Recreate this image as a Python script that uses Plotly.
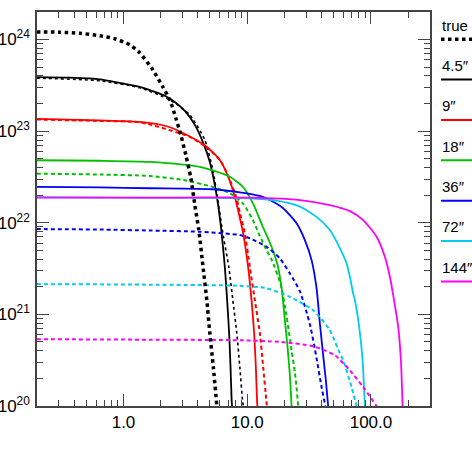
import plotly.graph_objects as go

# radius (x) and column density (y)
r_true = [0.199, 0.305, 0.443, 0.643, 0.851, 1.124, 1.354, 1.725, 2.078, 2.367, 2.648,
          2.906, 3.189, 3.500, 3.772, 4.061, 4.376, 4.714, 4.985, 5.321, 5.679]
n_true = [1.21e24, 1.20e24, 1.17e24, 1.10e24, 1.02e24, 8.75e23, 7.16e23, 4.67e23, 3.04e23,
          2.19e23, 1.39e23, 9.08e22, 5.49e22, 3.08e22, 1.56e22, 8.31e21, 3.45e21, 1.43e21,
          6.23e20, 2.65e20, 1.0e20]

# solid curves, one per beam
r_45 = [0.199, 0.368, 0.643, 0.933, 1.354, 1.791, 2.158, 2.598, 3.130, 3.772, 4.376,
        4.985, 5.472, 5.893, 6.232, 6.592, 6.880, 7.141, 7.329, 7.481, 7.54]
n_45 = [3.88e23, 3.83e23, 3.68e23, 3.36e23, 3.04e23, 2.68e23, 2.43e23, 2.08e23, 1.66e23,
        1.17e23, 7.62e22, 4.61e22, 2.58e22, 1.38e22, 7.34e21, 3.28e21, 1.43e21, 6.23e20,
        2.65e20, 1.15e20, 1.0e20]
r_9 = [0.199, 0.643, 1.354, 2.239, 3.436, 4.714, 6.005, 6.970, 7.941, 8.713, 9.265,
       10.17, 10.83, 11.37, 11.74, 12.00, 12.07]
n_9 = [1.36e23, 1.31e23, 1.26e23, 1.13e23, 8.75e22, 6.72e22, 4.84e22, 3.24e22, 1.91e22,
       1.13e22, 7.71e21, 3.28e21, 1.43e21, 6.23e20, 2.65e20, 1.15e20, 1.0e20]
r_18 = [0.199, 0.643, 1.632, 4.139, 7.235, 9.213, 11.10, 13.37, 15.72, 17.68, 19.05,
        20.14, 21.10, 22.11, 22.81]
n_18 = [4.81e22, 4.75e22, 4.61e22, 4.06e22, 3.18e22, 2.47e22, 1.64e22, 9.04e21, 5.47e21,
        3.36e21, 1.84e21, 8.64e20, 4.61e20, 2.17e20, 1.0e20]
r_36 = [0.199, 0.643, 1.632, 5.272, 8.713, 12.65, 15.23, 19.51, 25.04, 29.22, 33.11,
        36.33, 38.64, 41.23, 43.19, 45.08]
n_36 = [2.46e22, 2.43e22, 2.38e22, 2.32e22, 2.15e22, 1.96e22, 1.77e22, 1.44e22, 9.85e21,
        6.47e21, 3.91e21, 1.93e21, 7.95e20, 3.41e20, 1.91e20, 1.0e20]
r_72 = [0.199, 1.632, 10.50, 17.26, 26.62, 36.33, 46.53, 56.06, 63.51, 67.52, 71.80,
        74.12, 80.28, 85.53, 89.27]
n_72 = [1.90e22, 1.87e22, 1.85e22, 1.74e22, 1.50e22, 1.16e22, 8.32e21, 5.29e21, 3.60e21,
        2.57e21, 1.69e21, 1.43e21, 7.30e20, 3.16e20, 1.0e20]
r_144 = [0.199, 1.632, 10.50, 26.62, 46.53, 67.52, 86.50, 111.0, 129.5, 142.2, 151.2,
         166.0, 174.5, 180.1]
n_144 = [1.88e22, 1.88e22, 1.88e22, 1.77e22, 1.56e22, 1.34e22, 1.07e22, 7.03e21, 4.25e21,
         2.57e21, 1.62e21, 7.30e20, 3.16e20, 1.0e20]

# dashed curves, one per beam
r_45d = [0.199, 0.643, 1.354, 2.367, 3.436, 4.543, 5.272, 5.785, 6.348, 7.097, 7.650,
         8.240, 8.713, 9.163, 9.30]
n_45d = [3.79e23, 3.54e23, 2.97e23, 2.19e23, 1.50e23, 8.01e22, 3.77e22, 1.77e22, 7.71e21,
         3.28e21, 1.43e21, 6.23e20, 2.65e20, 1.15e20, 1.0e20]
r_9d = [0.199, 0.643, 1.354, 3.436, 4.714, 6.005, 6.970, 8.194, 8.713, 9.563, 10.50,
        11.52, 12.65, 13.45, 14.27, 14.40]
n_9d = [1.34e23, 1.29e23, 1.25e23, 8.64e22, 6.64e22, 4.84e22, 3.32e22, 1.86e22, 1.28e22,
        7.71e21, 3.28e21, 1.43e21, 6.23e20, 2.65e20, 1.15e20, 1.0e20]
r_18d = [0.199, 0.643, 1.632, 3.016, 5.272, 7.235, 9.213, 11.10, 12.65, 14.32, 15.81,
         18.69, 20.78, 22.81, 24.26, 25.04, 25.79]
n_18d = [3.43e22, 3.36e22, 3.24e22, 2.93e22, 2.46e22, 2.10e22, 1.63e22, 1.07e22, 7.16e21,
         5.03e21, 3.91e21, 2.09e21, 9.6e20, 4.06e20, 2.33e20, 1.60e20, 1.0e20]
r_36d = [0.199, 0.643, 1.632, 4.139, 8.713, 10.50, 14.32, 18.34, 22.11, 26.62, 32.07,
         36.33, 39.87, 42.79]
n_36d = [8.53e21, 8.43e21, 8.22e21, 7.97e21, 7.34e21, 6.76e21, 5.47e21, 4.08e21, 2.80e21,
         1.79e21, 7.81e20, 3.32e20, 1.61e20, 1.0e20]
r_72d = [0.199, 1.632, 8.713, 14.32, 22.11, 34.11, 46.53, 56.06, 59.61, 69.70, 76.47]
n_72d = [2.14e21, 2.11e21, 2.05e21, 1.93e21, 1.55e21, 1.11e21, 6.72e20, 3.74e20, 3.16e20,
         1.61e20, 1.0e20]
r_144d = [0.199, 1.632, 8.713, 18.34, 34.11, 51.08, 67.52, 86.50, 111.0]
n_144d = [5.36e20, 5.29e20, 5.22e20, 5.01e20, 4.49e20, 3.58e20, 2.45e20, 1.61e20, 1.0e20]

beams = ["4.5″", "9″", "18″", "36″", "72″", "144″"]
colors = ["black", "#ff0000", "#00c000", "#0000ff", "#00ccee", "#ff00ff"]
solid = [(r_45, n_45), (r_9, n_9), (r_18, n_18), (r_36, n_36), (r_72, n_72), (r_144, n_144)]
dashed = [(r_45d, n_45d), (r_9d, n_9d), (r_18d, n_18d), (r_36d, n_36d), (r_72d, n_72d),
          (r_144d, n_144d)]

x_tickvals = [1, 10, 100]
x_ticktext = ["1.0", "10.0", "100.0"]
y_tickvals = [1e20, 1e21, 1e22, 1e23, 1e24]
y_ticktext = ["10<sup>20</sup>", "10<sup>21</sup>", "10<sup>22</sup>", "10<sup>23</sup>",
              "10<sup>24</sup>"]

fig = go.Figure()

for i in range(len(beams)):
    fig.add_trace(go.Scatter(x=solid[i][0], y=solid[i][1], mode="lines",
                             line=dict(color=colors[i], width=1.8, shape="spline", smoothing=0.6),
                             name=beams[i], showlegend=False))
    fig.add_trace(go.Scatter(x=dashed[i][0], y=dashed[i][1], mode="lines",
                             line=dict(color=colors[i], width=2 if i else 1.6,
                                       dash="4px,3px" if i else "3px,3px",
                                       shape="spline", smoothing=0.6),
                             name=beams[i], showlegend=False))

fig.add_trace(go.Scatter(x=r_true, y=n_true, mode="lines",
                         line=dict(color="black", width=3.5, dash="dot", shape="spline", smoothing=0.6),
                         name="true", showlegend=False))

# legend: label above a short line sample, right of the plot
labels = ["true"] + beams
styles = [dict(color="black", width=3.5, dash="dot")] + \
         [dict(color=c, width=2) for c in colors]
for k in range(len(labels)):
    y_line = 0.931 - k * 0.1025
    fig.add_shape(type="line", xref="paper", yref="paper", x0=1.028, x1=1.11,
                  y0=y_line, y1=y_line, line=styles[k])
    fig.add_annotation(xref="paper", yref="paper", x=1.025, y=y_line + 0.036,
                       text=labels[k], showarrow=False, xanchor="left", yanchor="middle",
                       font=dict(size=15, color="black"))

axis_style = dict(
    type="log", showgrid=False, zeroline=False, showline=True, linecolor="#444",
    linewidth=1.5, mirror="ticks", ticks="inside", ticklen=12, tickwidth=1.2,
    tickcolor="#444", tickmode="array", automargin=False,
    minor=dict(ticks="inside", ticklen=6, tickwidth=1.2, tickcolor="#444", dtick="D1"),
)

fig.update_xaxes(axis_style, range=[-0.699, 2.477], tickvals=x_tickvals, ticktext=x_ticktext)
fig.update_yaxes(axis_style, range=[20, 24.3], tickvals=y_tickvals, ticktext=y_ticktext,
                 ticklabelstandoff=2)

fig.update_layout(
    width=472, height=456,
    margin=dict(l=37, r=42, t=12, b=50),
    paper_bgcolor="white", plot_bgcolor="white",
    font=dict(family="Liberation Sans, Arial, sans-serif", size=17, color="black"),
    showlegend=False,
)

# drop the page's default body margin so the figure sits at the window corner
fig.write_html("out.html", config={"displayModeBar": False},
               post_script="document.body.style.margin='0';document.body.style.overflow='hidden';")
